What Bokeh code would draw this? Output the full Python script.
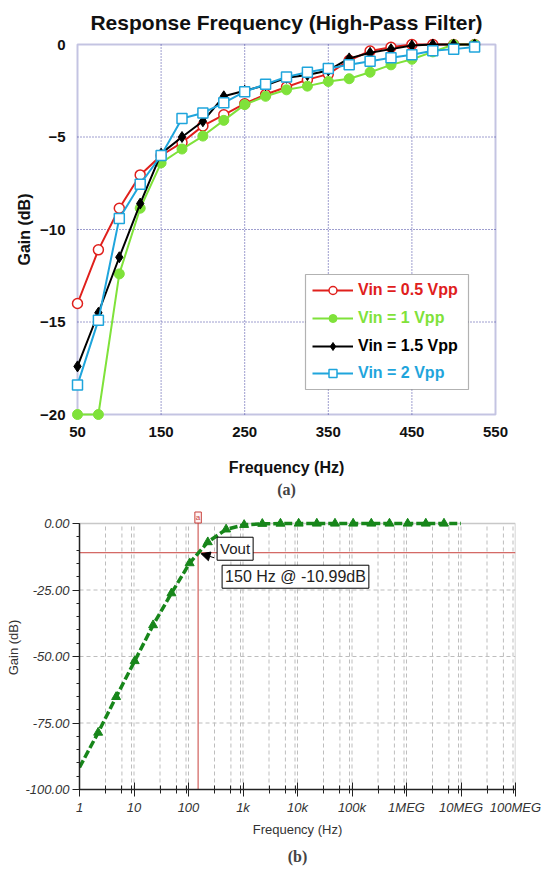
import math
from bokeh.plotting import figure
from bokeh.models import (FixedTicker, BoxAnnotation, Legend, LegendItem, Label,
                          Arrow, NormalHead, Title, PrintfTickFormatter, Range1d)
from bokeh.embed import file_html
from bokeh.resources import INLINE

# ---------------- data : (a) measured response ----------------
freq_a = [50, 75, 100, 125, 150, 175, 200, 225, 250, 275,
          300, 325, 350, 375, 400, 425, 450, 475, 500, 525]
gain_05 = [-14.0, -11.1, -8.85, -7.05, -6.0, -5.3, -4.4, -3.8, -3.2, -2.7,
           -2.3, -1.9, -1.6, -0.85, -0.35, -0.15, 0.0, 0.0, 0.0, 0.0]
gain_1 = [-20.0, -20.0, -12.4, -8.85, -6.4, -5.65, -4.95, -4.1, -3.25, -2.8,
          -2.45, -2.25, -2.0, -1.85, -1.5, -1.1, -0.8, -0.4, 0.0, 0.0]
gain_15 = [-17.4, -14.5, -11.5, -8.6, -5.9, -5.0, -4.15, -2.8, -2.5, -2.2,
           -1.8, -1.65, -1.4, -0.75, -0.45, -0.25, -0.05, 0.0, 0.0, 0.0]
gain_2 = [-18.4, -14.9, -9.4, -7.55, -6.0, -4.0, -3.7, -3.15, -2.55, -2.15,
          -1.75, -1.5, -1.3, -1.1, -0.9, -0.72, -0.55, -0.34, -0.25, -0.14]
series_labels = ["Vin = 0.5 Vpp", "Vin = 1 Vpp", "Vin = 1.5 Vpp", "Vin = 2 Vpp"]
x_ticks_a = [50, 150, 250, 350, 450, 550]
y_ticks_a = [-20, -15, -10, -5, 0]

# ---------------- data : (b) simulated response ----------------
freq_b = [1, 2.2, 4.7, 10.3, 22.4, 48.7, 105, 226, 490, 1050, 2260, 4870,
          10500, 22600, 48700, 105000, 226000, 487000, 1050000, 2260000,
          4870000, 10000000]
gain_b = [-91.7, -78.6, -65.2, -51.7, -38.2, -26.2, -14.9, -7.0, -2.2, -0.5,
          -0.1, -0.02, 0, 0, 0, 0, 0, 0, 0, 0, 0, 0]
x_ticks_b = [1, 10, 100, 1000, 10000, 100000, 1000000, 10000000, 100000000]
x_tick_labels_b = ["1", "10", "100", "1k", "10k", "100k", "1MEG", "10MEG", "100MEG"]
x_minor_mult_b = [3, 6, 9]
y_ticks_b = [-100, -75, -50, -25, 0]
cursor_f = 150
cursor_g = -10.99

# ---------------- styles ----------------
FONT = "Liberation Sans"
SERIF = "Liberation Serif"
FRAME_BLUE = "#3d3d9e"
c_red, c_green, c_black, c_cyan = "#e0201c", "#7fe23a", "#000000", "#1fa5dc"

W = 556
# ---------- figure (a) geometry (pixels) ----------
H1 = 504
F1L, F1W, F1T, F1H = 70, 432, 37, 384
PAD1 = 7
sx1 = (x_ticks_a[-1] - x_ticks_a[0]) / (F1W - 2 * PAD1)
sy1 = (y_ticks_a[-1] - y_ticks_a[0]) / (F1H - 2 * PAD1)
xr1 = Range1d(x_ticks_a[0] - PAD1 * sx1, x_ticks_a[-1] + PAD1 * sx1)
yr1 = Range1d(y_ticks_a[0] - PAD1 * sy1, y_ticks_a[-1] + PAD1 * sy1)

def px_x1(px):  # canvas px -> data x
    return xr1.start + (px - F1L) * sx1

def px_y1(py):  # canvas px -> data y
    return yr1.end - (py - F1T) * sy1

p1 = figure(width=W, height=H1, x_range=xr1, y_range=yr1,
            min_border_left=F1L, min_border_right=W - F1L - F1W,
            min_border_top=F1T, min_border_bottom=H1 - F1T - F1H,
            output_backend="svg", toolbar_location=None)
p1.title.text = "Response Frequency (High-Pass Filter)"
p1.title.align = "center"
p1.title.text_font = FONT
p1.title.text_font_size = "21px"
p1.title.text_font_style = "bold"
p1.title.text_color = "#111111"
p1.title.standoff = 8
p1.outline_line_color = None
p1.grid.visible = False

for ax in (p1.xaxis, p1.yaxis):
    ax.axis_line_color = None
    ax.major_tick_line_color = None
    ax.minor_tick_line_color = None
    ax.major_tick_out = 0
    ax.major_tick_in = 0
    ax.minor_tick_out = 0
    ax.major_label_text_font = FONT
    ax.major_label_text_font_style = "bold"
    ax.major_label_text_font_size = "15px"
    ax.major_label_text_color = "#111111"
    ax.axis_label_text_font = FONT
    ax.axis_label_text_font_style = "bold"
    ax.axis_label_text_font_size = "16px"
    ax.axis_label_text_color = "#111111"
    ax.major_label_standoff = 5
p1.xaxis.ticker = FixedTicker(ticks=x_ticks_a)
p1.yaxis.ticker = FixedTicker(ticks=y_ticks_a)
p1.xaxis.axis_label = "Frequency (Hz)"
p1.yaxis.axis_label = "Gain (dB)"
p1.xaxis.axis_label_standoff = 19
p1.yaxis.axis_label_standoff = 4

# grid (dotted) and frame
p1.segment(x0=x_ticks_a[1:-1], y0=[y_ticks_a[0]] * 4, x1=x_ticks_a[1:-1], y1=[y_ticks_a[-1]] * 4,
           line_color=FRAME_BLUE, line_dash="1 2", line_width=1, level="underlay")
p1.segment(x0=[x_ticks_a[0]] * 3, y0=y_ticks_a[1:-1], x1=[x_ticks_a[-1]] * 3, y1=y_ticks_a[1:-1],
           line_color=FRAME_BLUE, line_dash="1 2", line_width=1, level="underlay")
p1.add_layout(BoxAnnotation(left=x_ticks_a[0], right=x_ticks_a[-1], bottom=y_ticks_a[0], top=y_ticks_a[-1],
                            fill_alpha=0, line_color=FRAME_BLUE, line_width=2, level="underlay"))

rends = []
l = p1.line(freq_a, gain_05, line_color=c_red, line_width=2)
s = p1.scatter(freq_a, gain_05, marker="circle", size=10, line_color=c_red, line_width=1.5, fill_color="white")
rends.append((l, s))
l = p1.line(freq_a, gain_1, line_color=c_green, line_width=2)
s = p1.scatter(freq_a, gain_1, marker="circle", size=10, line_color=c_green, fill_color=c_green)
rends.append((l, s))
l = p1.line(freq_a, gain_15, line_color=c_black, line_width=2)
s = p1.scatter(freq_a, gain_15, marker="diamond", size=11, line_color=c_black, fill_color=c_black)
rends.append((l, s))
l = p1.line(freq_a, gain_2, line_color=c_cyan, line_width=2)
s = p1.scatter(freq_a, gain_2, marker="square", size=10, line_color=c_cyan, line_width=1.5, fill_color="white")
rends.append((l, s))

# legend box
p1.add_layout(BoxAnnotation(left=px_x1(305), right=px_x1(468), top=px_y1(274), bottom=px_y1(389),
                            fill_color="white", fill_alpha=1, line_color="black", line_width=1.2))
row_y = [290, 317.7, 345.7, 373.3]
colors = [c_red, c_green, c_black, c_cyan]
frame_bottom = F1T + F1H
for (lr, sr), lab, col, ry in zip(rends, series_labels, colors, row_y):
    leg = Legend(items=[LegendItem(label=lab, renderers=[lr, sr])],
                 location=(312 - F1L, frame_bottom - ry - 10),
                 margin=0, padding=0, spacing=0,
                 glyph_width=41, glyph_height=20, label_height=20, label_standoff=5,
                 label_text_font=FONT, label_text_font_style="bold", label_text_font_size="16px",
                 label_text_color=col, border_line_color=None, background_fill_alpha=0)
    p1.add_layout(leg)

p1.add_layout(Title(text="(a)", align="center", text_font=SERIF, text_font_size="16px",
                    text_font_style="bold", standoff=1), "below")

# ---------- figure (b) geometry ----------
H2 = 872 - H1
F2L, F2W, F2T, F2H = 79, 436, 1, 284
PADTOP2 = 18
py_per_db = (F2H - PADTOP2) / (y_ticks_b[-1] - y_ticks_b[0])
px_per_dec = F2W / math.log10(x_ticks_b[-1] / x_ticks_b[0])
yr2 = Range1d(y_ticks_b[0], y_ticks_b[-1] + PADTOP2 / py_per_db)
xr2 = Range1d(x_ticks_b[0], x_ticks_b[-1])

p2 = figure(width=W, height=H2, x_range=xr2, y_range=yr2, x_axis_type="log",
            min_border_left=F2L, min_border_right=W - F2L - F2W,
            min_border_top=F2T, min_border_bottom=H2 - F2T - F2H,
            output_backend="svg", toolbar_location=None)
p2.outline_line_color = None
p2.grid.visible = False

minor_b = [d * m for d in x_ticks_b[:-1] for m in x_minor_mult_b]
p2.xaxis.ticker = FixedTicker(ticks=x_ticks_b, minor_ticks=minor_b)
p2.xaxis.major_label_overrides = {t: s for t, s in zip(x_ticks_b, x_tick_labels_b)}
p2.yaxis.ticker = FixedTicker(ticks=y_ticks_b, minor_ticks=list(range(y_ticks_b[0], y_ticks_b[-1] + 1, 5)))
p2.yaxis.formatter = PrintfTickFormatter(format="%.2f")
p2.xaxis.bounds = (x_ticks_b[0], x_ticks_b[-1])
p2.yaxis.bounds = (y_ticks_b[0], y_ticks_b[-1])
for ax in (p2.xaxis, p2.yaxis):
    ax.axis_line_color = "#222222"
    ax.axis_line_width = 1.5
    ax.major_tick_line_color = "#222222"
    ax.minor_tick_line_color = "#222222"
    ax.major_label_text_font = FONT
    ax.major_label_text_font_style = "italic"
    ax.major_label_text_font_size = "13px"
    ax.major_label_text_color = "#333333"
    ax.axis_label_text_font = FONT
    ax.axis_label_text_font_style = "normal"
    ax.axis_label_text_font_size = "13px"
    ax.axis_label_text_color = "#333333"
p2.xaxis.major_tick_in = 7
p2.xaxis.major_tick_out = 7
p2.xaxis.minor_tick_in = 4
p2.xaxis.minor_tick_out = 4
p2.yaxis.major_tick_in = 0
p2.yaxis.major_tick_out = 7
p2.yaxis.minor_tick_in = 0
p2.yaxis.minor_tick_out = 3
p2.xaxis.major_label_standoff = 3
p2.yaxis.major_label_standoff = 3
p2.xaxis.axis_label = "Frequency (Hz)"
p2.yaxis.axis_label = "Gain (dB)"
p2.xaxis.axis_label_standoff = 4
p2.yaxis.axis_label_standoff = 1

GRID = "#bdbdbd"
vx = minor_b + x_ticks_b[1:-1]
p2.segment(x0=vx, y0=[y_ticks_b[0]] * len(vx), x1=vx, y1=[y_ticks_b[-1]] * len(vx),
           line_color=GRID, line_dash="4 3", line_width=1, level="underlay")
p2.segment(x0=[x_ticks_b[0]] * 3, y0=y_ticks_b[1:-1], x1=[x_ticks_b[-1]] * 3, y1=y_ticks_b[1:-1],
           line_color=GRID, line_dash="4 3", line_width=1, level="underlay")
# light frame (top and right)
p2.segment(x0=[x_ticks_b[0], x_ticks_b[-1]], y0=[y_ticks_b[-1], y_ticks_b[0]],
           x1=[x_ticks_b[-1], x_ticks_b[-1]], y1=[y_ticks_b[-1], y_ticks_b[-1]],
           line_color="#c8c8c8", line_width=1.5, level="underlay")

# cursor lines
CUR = "#c8403c"
p2.segment(x0=[x_ticks_b[0]], y0=[cursor_g], x1=[x_ticks_b[-1]], y1=[cursor_g], line_color=CUR, line_width=1)
p2.segment(x0=[cursor_f], y0=[y_ticks_b[0]], x1=[cursor_f], y1=[y_ticks_b[-1] + 1 / py_per_db],
           line_color=CUR, line_width=1)

# curve
G = "#17861a"
p2.line(freq_b, gain_b, line_color=G, line_width=3.5, line_dash="8 3")
p2.scatter(freq_b[1:-1], gain_b[1:-1], marker="triangle", size=9, line_color=G, fill_color=G)

# cursor tag and readouts
p2.add_layout(Label(x=cursor_f, y=y_ticks_b[-1], y_offset=6, text="a", text_font=FONT,
                    text_font_size="8px", text_color=CUR, text_align="center", text_baseline="middle",
                    border_line_color=CUR, background_fill_color="#fff4f4", padding=1))
p2.add_layout(Arrow(end=NormalHead(size=9, fill_color="black", line_color="black"),
                    x_start=cursor_f * 10 ** (16 / px_per_dec), y_start=cursor_g - 5 / py_per_db,
                    x_end=cursor_f * 10 ** (3 / px_per_dec), y_end=cursor_g - 1 / py_per_db,
                    line_color="black", line_width=1))
p2.add_layout(Label(x=cursor_f, y=cursor_g, x_offset=19, y_offset=4, text="Vout", text_font=FONT,
                    text_font_size="15px", text_color="#222222", text_align="left", text_baseline="middle",
                    border_line_color="black", background_fill_color="white", padding=3))
p2.add_layout(Label(x=cursor_f, y=cursor_g, x_offset=24, y_offset=-24,
                    text=f"{cursor_f:.0f} Hz @ {cursor_g:.2f}dB", text_font=FONT,
                    text_font_size="16px", text_color="#222222", text_align="left", text_baseline="middle",
                    border_line_color="black", background_fill_color="white", padding=3))

p2.add_layout(Title(text="(b)", align="center", text_font=SERIF, text_font_size="16px",
                    text_font_style="bold", standoff=12), "below")

# two independent roots, stacked (no frame alignment between them)
open("out.html", "w").write(file_html([p1, p2], INLINE))
